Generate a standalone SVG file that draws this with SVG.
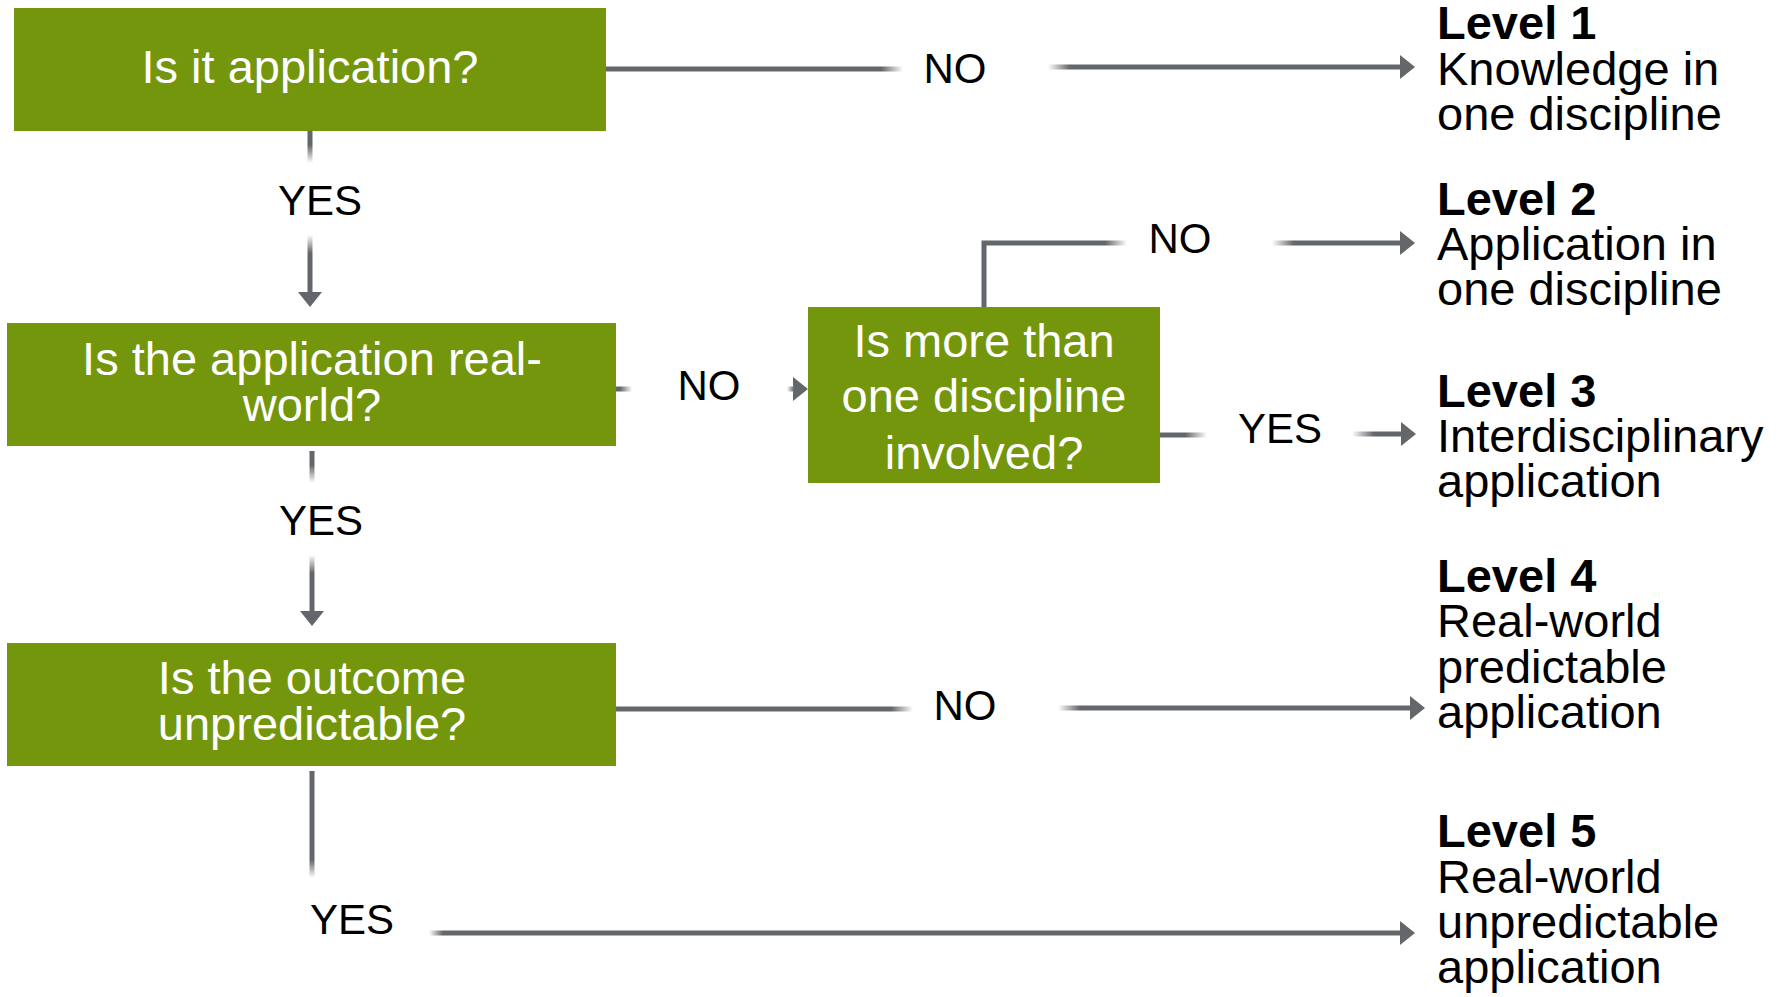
<svg xmlns="http://www.w3.org/2000/svg" width="1785" height="997" viewBox="0 0 1785 997">
<style>
.box{fill:#74960C}
.bt{font-family:"Liberation Sans",Arial,sans-serif;font-size:47px;fill:#fff;text-anchor:middle}
.lbl{font-family:"Liberation Sans",Arial,sans-serif;font-size:42px;fill:#000;text-anchor:middle}
.lv{font-family:"Liberation Sans",Arial,sans-serif;font-size:47px;fill:#000}
.lvb{font-weight:bold}
.ln{fill:none;stroke:#63666A;stroke-width:5}
</style>
<defs>
<marker id="arr" viewBox="0 0 15 24" markerWidth="15" markerHeight="24" markerUnits="userSpaceOnUse" refX="1" refY="12" orient="auto">
<path d="M0,0 L15,12 L0,24 z" fill="#63666A"/>
</marker>
<linearGradient id="fR" x1="0" y1="0" x2="1" y2="0"><stop offset="0" stop-color="#fff" stop-opacity="0"/><stop offset="1" stop-color="#fff" stop-opacity="1"/></linearGradient>
<linearGradient id="fL" x1="0" y1="0" x2="1" y2="0"><stop offset="0" stop-color="#fff" stop-opacity="1"/><stop offset="1" stop-color="#fff" stop-opacity="0"/></linearGradient>
<linearGradient id="fD" x1="0" y1="0" x2="0" y2="1"><stop offset="0" stop-color="#fff" stop-opacity="0"/><stop offset="1" stop-color="#fff" stop-opacity="1"/></linearGradient>
<linearGradient id="fU" x1="0" y1="0" x2="0" y2="1"><stop offset="0" stop-color="#fff" stop-opacity="1"/><stop offset="1" stop-color="#fff" stop-opacity="0"/></linearGradient>
</defs>

<g id="connectors">
<!-- Q1 NO -> Level 1 -->
<path class="ln" d="M606,69 H903"/>
<rect x="881" y="64" width="22" height="10" fill="url(#fR)"/>
<path class="ln" d="M1048,67 H1401" marker-end="url(#arr)"/>
<rect x="1048" y="62" width="22" height="10" fill="url(#fL)"/>
<!-- Q1 YES -> Q2 -->
<path class="ln" d="M310,131 V163"/>
<rect x="305" y="145" width="10" height="18" fill="url(#fD)"/>
<path class="ln" d="M310,235 V293" marker-end="url(#arr)"/>
<rect x="305" y="235" width="10" height="18" fill="url(#fU)"/>
<!-- Q2 NO -> Q4 -->
<path class="ln" d="M616,389 H632"/>
<rect x="620" y="384" width="12" height="10" fill="url(#fR)"/>
<path class="ln" d="M787,389 H794" marker-end="url(#arr)"/>
<rect x="787" y="384" width="7" height="10" fill="url(#fL)"/>
<!-- Q2 YES -> Q3 -->
<path class="ln" d="M312,451 V483"/>
<rect x="307" y="465" width="10" height="18" fill="url(#fD)"/>
<path class="ln" d="M312,555 V612" marker-end="url(#arr)"/>
<rect x="307" y="555" width="10" height="18" fill="url(#fU)"/>
<!-- Q4 NO -> Level 2 -->
<path class="ln" d="M984,307 V243 H1127"/>
<rect x="1105" y="238" width="22" height="10" fill="url(#fR)"/>
<path class="ln" d="M1272,243 H1401" marker-end="url(#arr)"/>
<rect x="1272" y="238" width="22" height="10" fill="url(#fL)"/>
<!-- Q4 YES -> Level 3 -->
<path class="ln" d="M1160,435 H1207"/>
<rect x="1185" y="430" width="22" height="10" fill="url(#fR)"/>
<path class="ln" d="M1352,434 H1402" marker-end="url(#arr)"/>
<rect x="1352" y="429" width="22" height="10" fill="url(#fL)"/>
<!-- Q3 NO -> Level 4 -->
<path class="ln" d="M616,709 H913"/>
<rect x="891" y="704" width="22" height="10" fill="url(#fR)"/>
<path class="ln" d="M1058,708 H1411" marker-end="url(#arr)"/>
<rect x="1058" y="703" width="22" height="10" fill="url(#fL)"/>
<!-- Q3 YES -> Level 5 -->
<path class="ln" d="M312,771 V878"/>
<rect x="307" y="860" width="10" height="18" fill="url(#fD)"/>
<path class="ln" d="M429,933 H1401" marker-end="url(#arr)"/>
<rect x="429" y="928" width="14" height="10" fill="url(#fL)"/>
</g>

<g id="labels">
<text class="lbl" x="955" y="83">NO</text>
<text class="lbl" x="320" y="215">YES</text>
<text class="lbl" x="709" y="400">NO</text>
<text class="lbl" x="321" y="535">YES</text>
<text class="lbl" x="1180" y="253">NO</text>
<text class="lbl" x="1280" y="443">YES</text>
<text class="lbl" x="965" y="720">NO</text>
<text class="lbl" x="352" y="934">YES</text>
</g>

<g id="q1">
<rect class="box" x="14" y="8" width="592" height="123"/>
<text class="bt" x="310" y="83">Is it application?</text>
</g>
<g id="q2">
<rect class="box" x="7" y="323" width="609" height="123"/>
<text class="bt" x="312" y="375">Is the application real-</text>
<text class="bt" x="312" y="421">world?</text>
</g>
<g id="q3">
<rect class="box" x="7" y="643" width="609" height="123"/>
<text class="bt" x="312" y="694">Is the outcome</text>
<text class="bt" x="312" y="740">unpredictable?</text>
</g>
<g id="q4">
<rect class="box" x="808" y="307" width="352" height="176"/>
<text class="bt" x="984" y="357">Is more than</text>
<text class="bt" x="984" y="412">one discipline</text>
<text class="bt" x="984" y="469">involved?</text>
</g>

<g id="level1">
<text class="lv lvb" x="1437" y="39">Level 1</text>
<text class="lv" x="1437" y="85">Knowledge in</text>
<text class="lv" x="1437" y="130">one discipline</text>
</g>
<g id="level2">
<text class="lv lvb" x="1437" y="215">Level 2</text>
<text class="lv" x="1437" y="260">Application in</text>
<text class="lv" x="1437" y="305">one discipline</text>
</g>
<g id="level3">
<text class="lv lvb" x="1437" y="407">Level 3</text>
<text class="lv" x="1437" y="452">Interdisciplinary</text>
<text class="lv" x="1437" y="497">application</text>
</g>
<g id="level4">
<text class="lv lvb" x="1437" y="592">Level 4</text>
<text class="lv" x="1437" y="637">Real-world</text>
<text class="lv" x="1437" y="683">predictable</text>
<text class="lv" x="1437" y="728">application</text>
</g>
<g id="level5">
<text class="lv lvb" x="1437" y="847">Level 5</text>
<text class="lv" x="1437" y="893">Real-world</text>
<text class="lv" x="1437" y="938">unpredictable</text>
<text class="lv" x="1437" y="983">application</text>
</g>
</svg>
